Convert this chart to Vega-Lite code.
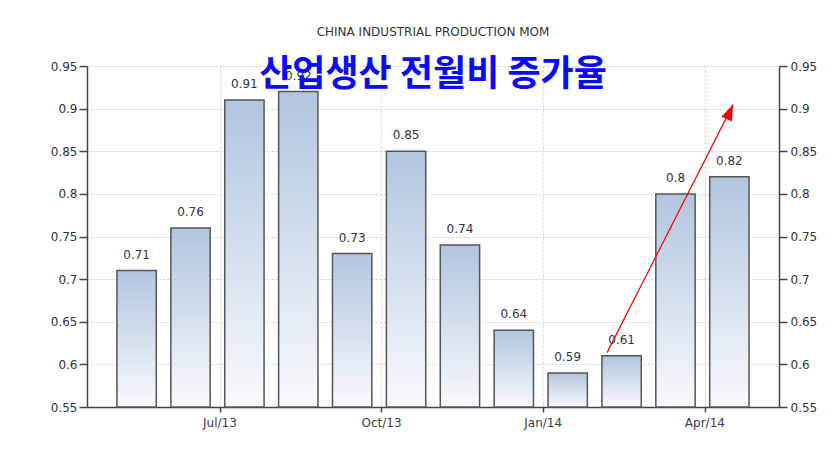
{
  "$schema": "https://vega.github.io/schema/vega-lite/v6.json",
  "autosize": {"type": "none"},
  "padding": {"left": 87, "top": 66, "right": 60, "bottom": 54},
  "width": 692,
  "height": 341,
  "background": "white",
  "title": {
    "text": "CHINA INDUSTRIAL PRODUCTION MOM",
    "subtitle": "산업생산 전월비 증가율",
    "anchor": "middle",
    "frame": "group",
    "offset": -34,
    "font": "DejaVu Sans",
    "fontSize": 12,
    "fontWeight": "normal",
    "color": "#333333",
    "subtitleFont": "Noto Sans CJK KR",
    "subtitleFontSize": 36,
    "subtitleFontWeight": "bold",
    "subtitleColor": "#0a0aff",
    "subtitlePadding": 19
  },
  "datasets": {
    "bars": [
      {"month": "May/13", "value": 0.71},
      {"month": "Jun/13", "value": 0.76},
      {"month": "Jul/13", "value": 0.91},
      {"month": "Aug/13", "value": 0.92},
      {"month": "Sep/13", "value": 0.73},
      {"month": "Oct/13", "value": 0.85},
      {"month": "Nov/13", "value": 0.74},
      {"month": "Dec/13", "value": 0.64},
      {"month": "Jan/14", "value": 0.59},
      {"month": "Feb/14", "value": 0.61},
      {"month": "Mar/14", "value": 0.8},
      {"month": "Apr/14", "value": 0.82}
    ],
    "arrow": [
      {"x0": 8.73, "y0": 0.6138, "x1": 11.07, "y1": 0.9047}
    ]
  },
  "layer": [
    {
      "data": {"name": "bars"},
      "layer": [
        {
          "mark": {
            "type": "bar",
            "stroke": "#555555",
            "strokeWidth": 1.5,
            "color": {
              "gradient": "linear",
              "x1": 0, "y1": 0, "x2": 0, "y2": 1,
              "stops": [
                {"offset": 0, "color": "#b2c5df"},
                {"offset": 1, "color": "#f8fafd"}
              ]
            }
          },
          "encoding": {
            "x": {
              "field": "month",
              "type": "ordinal",
              "sort": null,
              "scale": {"paddingInner": 0.27, "paddingOuter": 0.556},
              "axis": {
                "title": null,
                "values": ["Jul/13", "Oct/13", "Jan/14", "Apr/14"],
                "bandPosition": 0,
                "tickOffset": -5,
                "labelOffset": -20,
                "labelAngle": 0,
                "labelAlign": "center",
                "labelFont": "DejaVu Sans",
                "labelFontSize": 12,
                "labelColor": "#3a3a4a",
                "labelPadding": 5,
                "tickSize": 5,
                "tickColor": "#444444",
                "tickWidth": 1.5,
                "domainColor": "#444444",
                "domainWidth": 1.5,
                "grid": true,
                "gridColor": "#d0d0d0",
                "gridDash": [2, 2],
                "gridWidth": 1
              }
            },
            "y": {
              "field": "value",
              "type": "quantitative",
              "scale": {"domain": [0.55, 0.95], "zero": false, "nice": false},
              "axis": {
                "title": null,
                "orient": "left",
                "values": [0.55, 0.6, 0.65, 0.7, 0.75, 0.8, 0.85, 0.9, 0.95],
                "format": ".2~f",
                "labelFont": "DejaVu Sans",
                "labelFontSize": 12,
                "labelColor": "#333333",
                "labelPadding": 2,
                "tickSize": 8,
                "tickColor": "#444444",
                "tickWidth": 1.5,
                "domainColor": "#444444",
                "domainWidth": 1.5,
                "grid": true,
                "gridColor": "#d0d0d0",
                "gridDash": [2, 2],
                "gridWidth": 1
              }
            },
            "y2": {"datum": 0.55}
          }
        },
        {
          "mark": {
            "type": "text",
            "baseline": "bottom",
            "dy": -9,
            "font": "DejaVu Sans",
            "fontSize": 12,
            "color": "#333344"
          },
          "encoding": {
            "x": {"field": "month", "type": "ordinal", "sort": null},
            "y": {
              "field": "value",
              "type": "quantitative",
              "axis": {
                "title": null,
                "orient": "right",
                "values": [0.55, 0.6, 0.65, 0.7, 0.75, 0.8, 0.85, 0.9, 0.95],
                "format": ".2~f",
                "labelFont": "DejaVu Sans",
                "labelFontSize": 12,
                "labelColor": "#333333",
                "labelPadding": 3,
                "tickSize": 8,
                "tickColor": "#444444",
                "tickWidth": 1.5,
                "domainColor": "#444444",
                "domainWidth": 1.5,
                "grid": false
              }
            },
            "text": {"field": "value", "type": "quantitative", "format": ".2~f"}
          }
        }
      ],
      "resolve": {"axis": {"y": "independent"}}
    },
    {
      "data": {"name": "arrow"},
      "layer": [
        {
          "mark": {"type": "rule", "color": "#ff0000", "strokeWidth": 1.2},
          "encoding": {
            "x": {"field": "x0", "type": "quantitative", "scale": {"domain": [-0.921, 11.922], "nice": false, "zero": false}, "axis": null},
            "x2": {"field": "x1"},
            "y": {"field": "y0", "type": "quantitative", "axis": null},
            "y2": {"field": "y1"}
          }
        },
        {
          "mark": {
            "type": "point",
            "shape": "M0,0L0.73,2L-0.73,2Z",
            "size": 256,
            "angle": 24,
            "filled": true,
            "color": "#ff0000",
            "opacity": 1
          },
          "encoding": {
            "x": {"field": "x1", "type": "quantitative", "axis": null},
            "y": {"field": "y1", "type": "quantitative", "axis": null}
          }
        }
      ]
    }
  ],
  "resolve": {"scale": {"x": "independent"}},
  "config": {"view": {"stroke": null}}
}
